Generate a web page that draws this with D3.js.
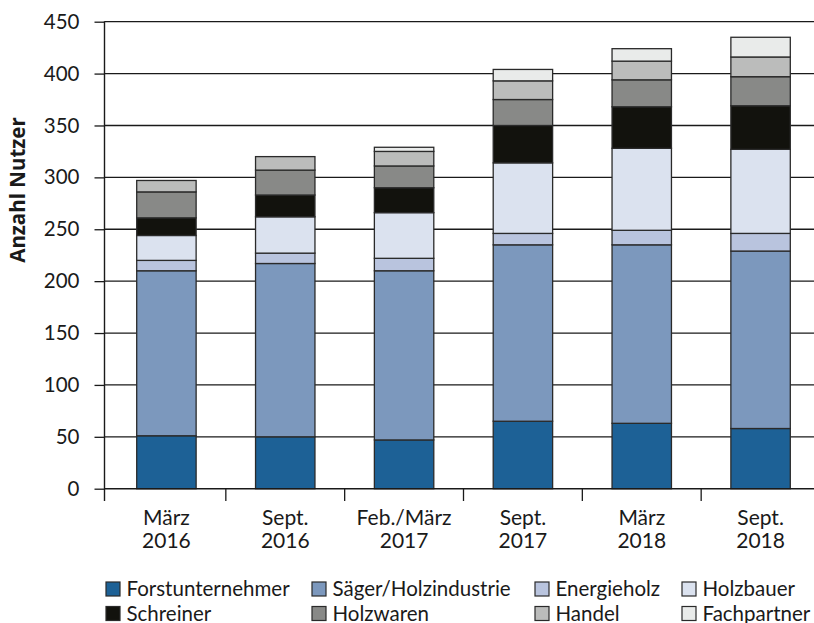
<!DOCTYPE html>
<html>
<head>
<meta charset="utf-8">
<script src="https://cdn.jsdelivr.net/npm/d3@7"></script>
<style>
  body { margin: 0; background: #fff; }
  svg { display: block; }
</style>
</head>
<body>
<svg id="chart" width="814" height="623"></svg>
<script>
// ---- Data ----
const categories = [["März", "2016"], ["Sept.", "2016"], ["Feb./März", "2017"], ["Sept.", "2017"], ["März", "2018"], ["Sept.", "2018"]];
const seriesNames = ["Forstunternehmer", "Säger/Holzindustrie", "Energieholz", "Holzbauer", "Schreiner", "Holzwaren", "Handel", "Fachpartner"];
const forstunternehmer = [51, 50, 47, 65, 63, 58];
const saegerHolzindustrie = [159, 167, 163, 170, 172, 171];
const energieholz = [10, 10, 12, 11, 14, 17];
const holzbauer = [24, 35, 44, 68, 79, 81];
const schreiner = [17, 21, 24, 36, 40, 42];
const holzwaren = [25, 24, 21, 25, 26, 28];
const handel = [11, 13, 14, 18, 18, 19];
const fachpartner = [0, 0, 4, 11, 12, 19];
const yTicks = [0, 50, 100, 150, 200, 250, 300, 350, 400, 450];
const yTitle = "Anzahl Nutzer";
const colors = ["#1d6196", "#7c98bd", "#b9c4de", "#dbe2ef", "#12120d", "#888987", "#bbbcbb", "#e9ebea"];

const seriesValues = [forstunternehmer, saegerHolzindustrie, energieholz, holzbauer, schreiner, holzwaren, handel, fachpartner];
const catKeys = categories.map(c => c.join(" "));
const table = catKeys.map((k, i) => {
  const row = { key: k };
  seriesNames.forEach((s, j) => row[s] = seriesValues[j][i]);
  return row;
});

// ---- Layout ----
const svg = d3.select("#chart");
const axisX = 104.5;
const y = d3.scaleLinear().domain([0, 450]).range([488.7, 21.7]);
const x = d3.scaleBand().domain(catKeys).range([107, 820]).paddingInner(0.5).paddingOuter(0.25);
const ink = "#1a1a1a";
const font = "Lato, 'Open Sans', sans-serif";

// gridlines
svg.append("g").selectAll("line").data(yTicks.filter(t => t > 0)).join("line")
  .attr("x1", axisX).attr("x2", 814)
  .attr("y1", d => y(d)).attr("y2", d => y(d))
  .attr("stroke", ink).attr("stroke-width", 1.3);

// bars
const stack = d3.stack().keys(seriesNames)(table);
svg.append("g").selectAll("g").data(stack).join("g")
  .attr("fill", (d, i) => colors[i])
  .selectAll("rect").data(d => d.filter(p => p[1] - p[0] > 0)).join("rect")
  .attr("x", d => x(d.data.key))
  .attr("width", x.bandwidth())
  .attr("y", d => y(d[1]))
  .attr("height", d => y(d[0]) - y(d[1]))
  .attr("stroke", "#2a2a2a").attr("stroke-width", 1.3);

// y axis
const yAxis = d3.axisLeft(y).tickValues(yTicks).tickSize(10).tickPadding(15);
const yg = svg.append("g").attr("transform", `translate(${axisX},0)`).call(yAxis);
yg.select(".domain").remove();
yg.selectAll(".tick line").attr("stroke", ink).attr("stroke-width", 1.3);
yg.selectAll(".tick text").style("font-family", font).style("font-size", "20.5px").attr("fill", ink);
yg.attr("font-family", null).attr("font-size", null);
svg.append("line").attr("x1", axisX).attr("x2", axisX).attr("y1", y(450) - 0.5).attr("y2", 501)
  .attr("stroke", ink).attr("stroke-width", 1.4);

// x axis line
svg.append("line").attr("x1", axisX).attr("x2", 814).attr("y1", y(0)).attr("y2", y(0))
  .attr("stroke", ink).attr("stroke-width", 1.4);
// x boundary ticks
const gap = x.step() - x.bandwidth();
svg.append("g").selectAll("line").data(catKeys.slice(1)).join("line")
  .attr("x1", d => x(d) - gap / 2).attr("x2", d => x(d) - gap / 2)
  .attr("y1", y(0)).attr("y2", 501)
  .attr("stroke", ink).attr("stroke-width", 1.3);

// x labels
const xl = svg.append("g").selectAll("text").data(categories).join("text")
  .attr("text-anchor", "middle")
  .style("font-family", font).style("font-size", "21px").attr("fill", ink)
  .attr("transform", (d, i) => `translate(${x(catKeys[i]) + x.bandwidth() / 2},0)`);
xl.append("tspan").attr("x", 0).attr("y", 525).text(d => d[0]);
xl.append("tspan").attr("x", 0).attr("y", 547.5).text(d => d[1]);

// y title
svg.append("text").attr("transform", "translate(24.5,190) rotate(-90)")
  .attr("text-anchor", "middle").attr("fill", ink)
  .style("font-family", "'Open Sans', sans-serif").style("font-weight", "bold").style("font-size", "20.5px")
  .text(yTitle);

// legend
const colX = [106, 312, 535, 682];
const rowY = [582, 606.5];
const lg = svg.append("g").selectAll("g").data(seriesNames).join("g")
  .attr("transform", (d, i) => `translate(${colX[i % 4]},${rowY[Math.floor(i / 4)]})`);
lg.append("rect").attr("width", 14).attr("height", 14)
  .attr("fill", (d, i) => colors[i]).attr("stroke", "#2a2a2a").attr("stroke-width", 1.2);
lg.append("text").attr("x", 20.5).attr("y", 14).attr("fill", ink)
  .style("font-family", font).style("font-size", "20.5px").text(d => d);
</script>
</body>
</html>
